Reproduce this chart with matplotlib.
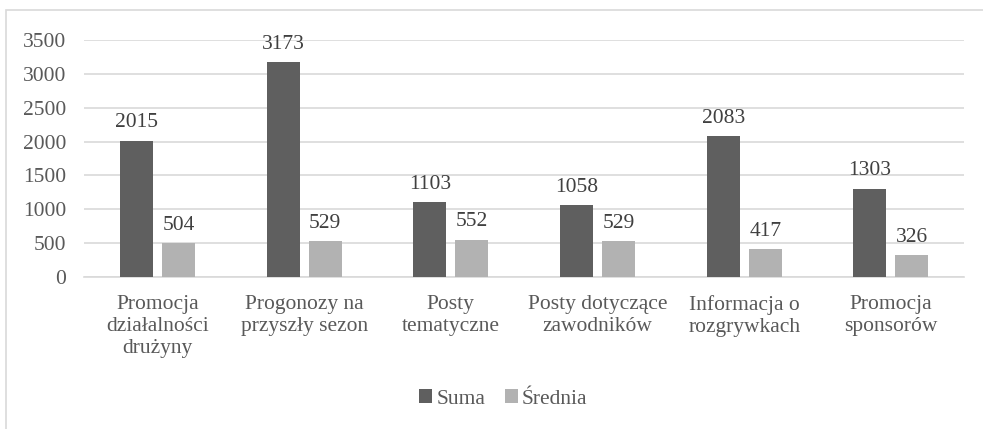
import matplotlib.pyplot as plt
import numpy as np
from matplotlib.patches import Rectangle

categories = ['Promocja\ndziałalności\ndrużyny', 'Progonozy na\nprzyszły sezon', 'Posty\ntematyczne',
              'Posty dotyczące\nzawodników', 'Informacja o\nrozgrywkach', 'Promocja\nsponsorów']
suma = [2015, 3173, 1103, 1058, 2083, 1303]
srednia = [504, 529, 552, 529, 417, 326]

plt.rcParams['font.family'] = ['Liberation Serif', 'DejaVu Serif']
text_color = '#595959'
fs = 15.5

fig = plt.figure(figsize=(9.83, 4.29), dpi=100)
ax = fig.add_axes([0.0855, 0.354, 0.8955, 0.553])

# chart border like the office export
fig.patches.append(Rectangle((6 / 983, -0.1), 1.1, 1.1 - 10 / 429, transform=fig.transFigure,
                             fill=False, edgecolor='#d9d9d9', linewidth=1.2))

x = np.arange(len(categories))
w = 0.225
off = 0.143
b1 = ax.bar(x - off, suma, w, color='#5f5f5f', label='Suma', zorder=3)
b2 = ax.bar(x + off, srednia, w, color='#b2b2b2', label='Średnia', zorder=3)

for bars in (b1, b2):
    for rect in bars:
        ax.annotate(str(int(rect.get_height())), (rect.get_x() + rect.get_width() / 2, rect.get_height()),
                    xytext=(0, 6), textcoords='offset points', ha='center', va='bottom',
                    fontsize=fs, color='#404040')

ax.set_xlim(-0.5, 5.5)
ax.set_ylim(0, 3500)
ax.set_yticks(range(0, 3501, 500))
ax.set_xticks(x)
ax.set_xticklabels(categories, fontsize=fs, color=text_color, linespacing=1.22)
ax.tick_params(axis='y', labelsize=fs, labelcolor=text_color, length=0, pad=13)
ax.tick_params(axis='x', length=0, pad=13)
ax.grid(axis='y', color='#d9d9d9', linewidth=1.2, zorder=0)
for s in ['top', 'right', 'left']:
    ax.spines[s].set_visible(False)
ax.spines['bottom'].set_color('#d9d9d9')
ax.spines['bottom'].set_linewidth(1.2)

fig.legend(handles=[b1, b2], loc='center', bbox_to_anchor=(0.512, 0.070), ncol=2, frameon=False,
           fontsize=fs, labelcolor=text_color, handlelength=0.6, handleheight=0.6, handletextpad=0.2,
           columnspacing=0.9)

fig.savefig('out.png', dpi=100)
